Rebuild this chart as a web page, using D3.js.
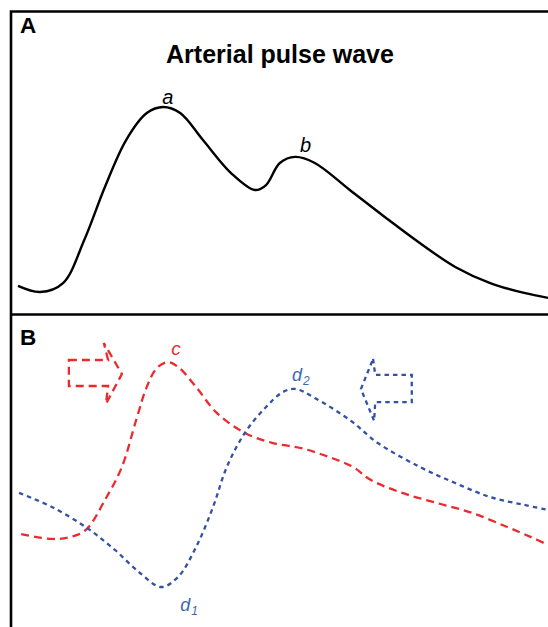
<!DOCTYPE html>
<html><head><meta charset="utf-8">
<script src="https://cdn.jsdelivr.net/npm/d3@7"></script>
<style>body{margin:0;background:#fff}svg{display:block}text{font-family:"Liberation Sans",Arial,sans-serif}</style>
</head><body>
<script>
// Panel A: arterial pulse wave (time %, amplitude %)
const pulseT = [0,4.2,8.5,12.5,16.4,20.4,24.3,27.4,30.6,34.9,40.2,44.7,46.8,49.4,52.3,56.0,62.6,69.2,75.8,82.5,89.1,95.5,100];
const pulseV = [5.3,2.1,6.8,29.5,57.4,82.1,96.3,99.5,96.3,82.1,64.7,55.8,58.4,70,73.2,70,55.8,41.6,27.9,15.3,6.8,1.6,-1];
// Panel B: forward wave (red) and reflected wave (blue)
const fwdT = [0.6,6.4,9.8,12.8,16.4,19.6,22.3,24.3,26.2,28.3,30.2,33.6,37.5,42.8,48.1,53.4,58.7,63.2,66.6,72.5,79.1,85.7,92.3,96.8,100];
const fwdV = [24.3,22.2,23,26.1,39.1,53.5,73.9,88.3,96.5,99.1,97,88.3,77,68.3,63.9,61.7,57.8,53.5,47.8,42.2,37.8,33.5,27.4,23,19.6];
const refT = [0.2,6.4,13,18.3,23,27,30.2,33.6,36.8,39.4,42.8,46.8,50,52.3,56,62.6,67.9,75.8,82.5,89.1,95.5,100];
const refV = [42.2,36.1,27,17.4,7.4,1.3,5.7,18.7,36.1,53.5,68.3,79.6,86.1,87.4,83.5,73.9,63.9,53.5,46.5,40.4,37,34.8];
// Arrow outlines (time %, amplitude %)
const fwdArrowT = [9.6,17,16.2,19.6,16.6,17,9.6];
const fwdArrowV = [100,100,107.4,93.9,80.9,88.7,88.7];
const refArrowT = [67,67.4,74.3,74.3,67.4,67.2,64.7];
const refArrowV = [100.5,93.5,93.5,81.7,81.7,73.5,87.4];
// Labels
const titleText = "Arterial pulse wave";
const panelLabels = ["A","B"];

const W = 548, H = 627;
const svg = d3.select("body").append("svg").attr("width", W).attr("height", H);

const x = d3.scaleLinear().domain([0,100]).range([18,548]);
const yA = d3.scaleLinear().domain([0,100]).range([296,106]);
const yB = d3.scaleLinear().domain([0,100]).range([590,360]);

const RED = "#ec2a2e", BLUE = "#3451a3", BLUE_T = "#3e66b0";

// frames
svg.append("path").attr("d", `M11,${H+5} V11.5 H${W+5}`).attr("fill","none").attr("stroke","#000").attr("stroke-width",2.6);
svg.append("line").attr("x1",11).attr("x2",W+5).attr("y1",314.5).attr("y2",314.5).attr("stroke","#000").attr("stroke-width",2.6);

// panel labels
svg.append("text").attr("x",20).attr("y",33).attr("font-size",22.5).attr("font-weight","bold").text(panelLabels[0]);
svg.append("text").attr("x",20).attr("y",345).attr("font-size",22.5).attr("font-weight","bold").text(panelLabels[1]);
svg.append("text").attr("x",280).attr("y",63).attr("text-anchor","middle").attr("font-size",25).attr("font-weight","bold").text(titleText);

const line = (ys) => d3.line().x(d=>x(d[0])).y(d=>ys(d[1])).curve(d3.curveCatmullRom.alpha(0.5));

svg.append("path").datum(d3.zip(pulseT,pulseV)).attr("d", line(yA)).attr("fill","none").attr("stroke","#000").attr("stroke-width",2.4);

svg.append("path").datum(d3.zip(fwdT,fwdV)).attr("d", line(yB)).attr("fill","none").attr("stroke",RED).attr("stroke-width",2.3).attr("stroke-dasharray","8,5");
svg.append("path").datum(d3.zip(refT,refV)).attr("d", line(yB)).attr("fill","none").attr("stroke",BLUE).attr("stroke-width",2.3).attr("stroke-dasharray","4.5,4");

const poly = d3.line().x(d=>x(d[0])).y(d=>yB(d[1])).curve(d3.curveLinearClosed);
svg.append("path").datum(d3.zip(fwdArrowT,fwdArrowV)).attr("d", poly).attr("fill","none").attr("stroke",RED).attr("stroke-width",2.3).attr("stroke-dasharray","8,5");
svg.append("path").datum(d3.zip(refArrowT,refArrowV)).attr("d", poly).attr("fill","none").attr("stroke",BLUE).attr("stroke-width",2.3).attr("stroke-dasharray","4.5,4");

// curve labels
function lab(t, yv, ys, txt, sub, color, fs){
  const el = svg.append("text").attr("x", x(t)).attr("y", ys(yv)).attr("font-size",fs).attr("font-style","italic").attr("fill",color);
  el.append("tspan").text(txt);
  if (sub) el.append("tspan").attr("font-size",12).attr("dy",4).attr("dx",1).text(sub);
}
lab(27.2, 101, yA, "a", null, "#000", 20);
lab(53.2, 75.8, yA, "b", null, "#000", 20);
lab(28.9, 102.2, yB, "c", null, RED, 19);
lab(51.7, 90.9, yB, "d", "2", BLUE_T, 18);
lab(30.6, -9.1, yB, "d", "1", BLUE_T, 18);
</script>
</body></html>
